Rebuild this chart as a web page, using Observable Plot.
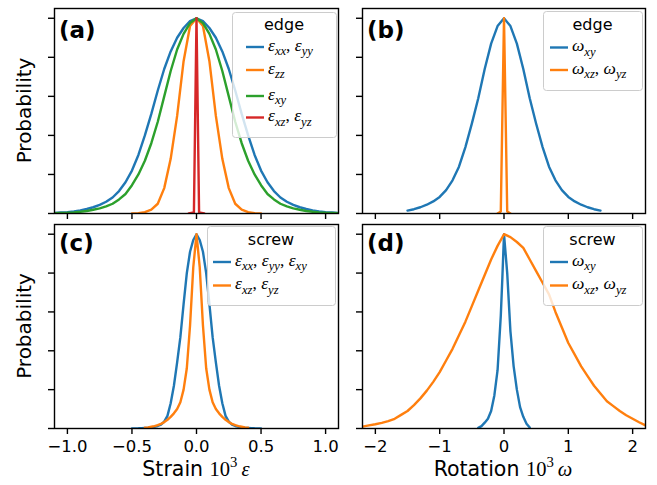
<!DOCTYPE html>
<html>
<head>
<meta charset="utf-8">
<script src="https://cdn.jsdelivr.net/npm/d3@7"></script>
<script src="https://cdn.jsdelivr.net/npm/@observablehq/plot@0.6"></script>
<style>
  body { margin: 0; background: #ffffff; }
  #fig { position: relative; width: 657px; height: 485px; overflow: hidden; background: #ffffff; }
  #fig svg { position: absolute; left: 0; top: 0; }
</style>
</head>
<body>
<div id="fig"></div>
<script>
// ---------- (a) edge dislocation, strain components ----------
const edgeStrainX = [-1.1,-1.05,-1,-0.95,-0.9,-0.85,-0.8,-0.75,-0.7,-0.65,-0.6,-0.55,-0.5,-0.45,-0.4,-0.35,-0.3,-0.25,-0.2,-0.15,-0.1,-0.05,0,
  0.05,0.1,0.15,0.2,0.25,0.3,0.35,0.4,0.45,0.5,0.55,0.6,0.65,0.7,0.75,0.8,0.85,0.9,0.95,1,1.05,1.1];
const edgeExxEyy = [0.003,0.005,0.007,0.011,0.016,0.023,0.032,0.044,0.06,0.082,0.115,0.16,0.22,0.3,0.4,0.51,0.63,0.74,0.83,0.9,0.95,0.985,1,
  0.985,0.95,0.9,0.83,0.74,0.63,0.51,0.4,0.3,0.22,0.16,0.115,0.082,0.06,0.044,0.032,0.023,0.016,0.011,0.007,0.005,0.003];
const edgeExy = [0.002,0.003,0.004,0.006,0.009,0.013,0.019,0.026,0.036,0.05,0.072,0.1,0.145,0.2,0.27,0.36,0.47,0.6,0.73,0.84,0.92,0.975,1,
  0.975,0.92,0.84,0.73,0.6,0.47,0.36,0.27,0.2,0.145,0.1,0.072,0.05,0.036,0.026,0.019,0.013,0.009,0.006,0.004,0.003,0.002];
const edgeEzzX = [-0.5,-0.45,-0.4,-0.35,-0.3,-0.25,-0.2,-0.15,-0.1,-0.05,0,0.05,0.1,0.15,0.2,0.25,0.3,0.35,0.4,0.45,0.5];
const edgeEzz = [0,0.002,0.007,0.02,0.05,0.13,0.28,0.5,0.78,0.96,1,0.96,0.78,0.5,0.28,0.13,0.05,0.02,0.007,0.002,0];
const edgeExzX = [-0.06,-0.02,0,0.02,0.06];
const edgeExzEyz = [0,0.005,1,0.005,0];

// ---------- (b) edge dislocation, rotation components ----------
const edgeRotX = [-1.5,-1.4,-1.3,-1.2,-1.1,-1,-0.9,-0.8,-0.7,-0.6,-0.5,-0.4,-0.3,-0.2,-0.1,0,
  0.1,0.2,0.3,0.4,0.5,0.6,0.7,0.8,0.9,1,1.1,1.2,1.3,1.4,1.5];
const edgeWxy = [0.015,0.022,0.032,0.045,0.062,0.085,0.12,0.17,0.24,0.34,0.46,0.59,0.74,0.87,0.96,1,
  0.96,0.87,0.74,0.59,0.46,0.34,0.24,0.17,0.12,0.085,0.062,0.045,0.032,0.022,0.015];
const edgeWxzX = [-0.1,-0.05,0,0.05,0.1];
const edgeWxzWyz = [0,0.01,1,0.01,0];

// ---------- (c) screw dislocation, strain components ----------
const screwStrainX = [-0.5,-0.475,-0.45,-0.425,-0.4,-0.375,-0.35,-0.325,-0.3,-0.275,-0.25,-0.225,-0.2,-0.175,-0.15,-0.125,-0.1,-0.075,-0.05,-0.025,0,
  0.025,0.05,0.075,0.1,0.125,0.15,0.175,0.2,0.225,0.25,0.275,0.3,0.325,0.35,0.375,0.4,0.425,0.45,0.475,0.5];
const screwExxEyyExy = [0,0.0005,0.001,0.002,0.003,0.004,0.006,0.009,0.013,0.02,0.035,0.065,0.13,0.22,0.34,0.47,0.64,0.8,0.91,0.97,1,
  0.97,0.91,0.8,0.64,0.47,0.34,0.22,0.13,0.065,0.035,0.02,0.013,0.009,0.006,0.004,0.003,0.002,0.001,0.0005,0];
const screwExzX = [-0.4,-0.375,-0.35,-0.325,-0.3,-0.275,-0.25,-0.225,-0.2,-0.175,-0.15,-0.125,-0.1,-0.075,-0.05,-0.025,0,
  0.025,0.05,0.075,0.1,0.125,0.15,0.175,0.2,0.225,0.25,0.275,0.3,0.325,0.35,0.375,0.4];
const screwExzEyz = [0.004,0.006,0.009,0.012,0.017,0.024,0.033,0.045,0.06,0.078,0.1,0.135,0.2,0.31,0.53,0.83,1,
  0.83,0.53,0.31,0.2,0.135,0.1,0.078,0.06,0.045,0.033,0.024,0.017,0.012,0.009,0.006,0.004];

// ---------- (d) screw dislocation, rotation components ----------
const screwWxyX = [-0.4,-0.35,-0.3,-0.25,-0.2,-0.15,-0.1,-0.05,-0.025,0,0.025,0.05,0.1,0.15,0.2,0.25,0.3,0.35,0.4];
const screwWxy = [0.003,0.012,0.03,0.05,0.09,0.17,0.3,0.58,0.78,1,0.9,0.8,0.5,0.32,0.2,0.11,0.06,0.025,0.005];
const screwRotX = [-2.2,-2.1,-2,-1.9,-1.8,-1.7,-1.6,-1.5,-1.4,-1.3,-1.2,-1.1,-1,-0.9,-0.8,-0.7,-0.6,-0.5,-0.4,-0.3,-0.2,-0.1,0,
  0.1,0.2,0.3,0.4,0.5,0.6,0.7,0.8,0.9,1,1.1,1.2,1.3,1.4,1.5,1.6,1.7,1.8,1.9,2,2.1,2.2];
const screwWxzWyz = [0.01,0.016,0.022,0.029,0.038,0.05,0.07,0.09,0.12,0.155,0.195,0.24,0.29,0.35,0.41,0.48,0.55,0.63,0.71,0.79,0.87,0.94,1,
  0.985,0.96,0.93,0.87,0.81,0.75,0.69,0.6,0.52,0.44,0.38,0.32,0.27,0.22,0.18,0.14,0.115,0.09,0.068,0.05,0.032,0.016];

// ---------- ticks ----------
const yTicks = [0, 0.2, 0.4, 0.6, 0.8, 1.0];
const strainTicks = [-1, -0.5, 0, 0.5, 1];
const rotationTicks = [-2, -1, 0, 1, 2];

const W = 657, H = 485;
const C = {blue: "#1f77b4", orange: "#ff7f0e", green: "#2ca02c", red: "#d62728"};

const rows = (xs, ys) => xs.map((x, i) => ({x, y: ys[i]}));

function panel({box, domain, ticks, format, series}) {
  return Plot.plot({
    width: W, height: H,
    marginLeft: box.left, marginRight: W - box.right,
    marginTop: box.top, marginBottom: H - box.bottom,
    x: {domain},
    y: {domain: [0, 1.05]},
    style: {background: "transparent", fontFamily: "DejaVu Sans", fontSize: "16.5px", color: "black", overflow: "visible"},
    marks: [
      ...series.map(s => Plot.line(rows(s.x, s.y), {x: "x", y: "y", stroke: s.color, strokeWidth: 2.4, clip: true})),
      Plot.frame({stroke: "black", strokeWidth: 1.4}),
      Plot.axisX({ticks, tickSize: 6, tickPadding: 6, strokeWidth: 1.4, label: null,
                  tickFormat: format ? d3.format(format) : () => ""}),
      Plot.axisY({ticks: yTicks, tickSize: 6, strokeWidth: 1.4, label: null, tickFormat: () => ""})
    ]
  });
}

const fig = document.getElementById("fig");
fig.append(panel({
  box: {left: 54, right: 338, top: 8, bottom: 213}, domain: [-1.1, 1.1], ticks: strainTicks, format: null,
  series: [
    {x: edgeStrainX, y: edgeExxEyy, color: C.blue},
    {x: edgeEzzX, y: edgeEzz, color: C.orange},
    {x: edgeStrainX, y: edgeExy, color: C.green},
    {x: edgeExzX, y: edgeExzEyz, color: C.red}
  ]
}));
fig.append(panel({
  box: {left: 362, right: 645, top: 8, bottom: 213}, domain: [-2.2, 2.2], ticks: rotationTicks, format: null,
  series: [
    {x: edgeRotX, y: edgeWxy, color: C.blue},
    {x: edgeWxzX, y: edgeWxzWyz, color: C.orange}
  ]
}));
fig.append(panel({
  box: {left: 54, right: 338, top: 224, bottom: 428}, domain: [-1.1, 1.1], ticks: strainTicks, format: ".1f",
  series: [
    {x: screwStrainX, y: screwExxEyyExy, color: C.blue},
    {x: screwExzX, y: screwExzEyz, color: C.orange}
  ]
}));
fig.append(panel({
  box: {left: 362, right: 645, top: 224, bottom: 428}, domain: [-2.2, 2.2], ticks: rotationTicks, format: "d",
  series: [
    {x: screwWxyX, y: screwWxy, color: C.blue},
    {x: screwRotX, y: screwWxzWyz, color: C.orange}
  ]
}));

// ---------- annotation layer: labels and legends ----------
const svg = d3.create("svg").attr("width", W).attr("height", H);
const SANS = "DejaVu Sans", SERIF = "Liberation Serif";

// parts: {t, sub, sup, rm, sans}
function rich(g, x, y, parts, size, anchor = "start") {
  const text = g.append("text").attr("x", x).attr("y", y).attr("font-size", size)
    .attr("text-anchor", anchor).attr("fill", "black").style("white-space", "pre");
  let off = 0;
  for (const p of parts) {
    const target = p.sub ? size * 0.26 : p.sup ? -size * 0.42 : 0;
    const ts = text.append("tspan").text(p.t).attr("dy", target - off);
    off = target;
    ts.attr("font-family", p.sans ? SANS : SERIF);
    if (p.sub || p.sup) ts.attr("font-size", size * 0.72);
    if (!p.rm && !p.sans) ts.attr("font-style", "italic");
  }
  return text;
}

const eps = {t: "ε"}, omg = {t: "ω"}, comma = {t: ", ", rm: true};
const sub = s => ({t: s, sub: true});

function legend({x, y, w, h, title, titleY, keyX, textX, entries}) {
  const g = svg.append("g");
  g.append("rect").attr("x", x + 0.5).attr("y", y + 0.5).attr("width", w).attr("height", h)
    .attr("rx", 3).attr("fill", "white").attr("fill-opacity", 0.8).attr("stroke", "#cccccc").attr("stroke-width", 1);
  g.append("text").attr("x", x + w / 2).attr("y", titleY).attr("text-anchor", "middle")
    .attr("font-family", SANS).attr("font-size", 16).text(title);
  for (const e of entries) {
    g.append("line").attr("x1", keyX).attr("x2", keyX + 18).attr("y1", e.y).attr("y2", e.y)
      .attr("stroke", e.color).attr("stroke-width", 2.4);
    rich(g, textX, e.y + 3.5, e.parts, 17.5);
  }
}

legend({x: 232, y: 12, w: 104, h: 125, title: "edge", titleY: 30, keyX: 246, textX: 268, entries: [
  {y: 47, color: C.blue, parts: [eps, sub("xx"), comma, eps, sub("yy")]},
  {y: 70, color: C.orange, parts: [eps, sub("zz")]},
  {y: 96, color: C.green, parts: [eps, sub("xy")]},
  {y: 117.5, color: C.red, parts: [eps, sub("xz"), comma, eps, sub("yz")]}
]});
legend({x: 543, y: 11, w: 99, h: 79, title: "edge", titleY: 29.5, keyX: 550, textX: 572, entries: [
  {y: 47.5, color: C.blue, parts: [omg, sub("xy")]},
  {y: 70, color: C.orange, parts: [omg, sub("xz"), comma, omg, sub("yz")]}
]});
legend({x: 207, y: 226, w: 128, h: 79, title: "screw", titleY: 245, keyX: 213, textX: 235, entries: [
  {y: 262, color: C.blue, parts: [eps, sub("xx"), comma, eps, sub("yy"), comma, eps, sub("xy")]},
  {y: 285.5, color: C.orange, parts: [eps, sub("xz"), comma, eps, sub("yz")]}
]});
legend({x: 543, y: 226, w: 99, h: 79, title: "screw", titleY: 245, keyX: 550, textX: 572, entries: [
  {y: 262, color: C.blue, parts: [omg, sub("xy")]},
  {y: 285.5, color: C.orange, parts: [omg, sub("xz"), comma, omg, sub("yz")]}
]});

// panel tags
for (const [tag, x, y] of [["(a)", 59, 38], ["(b)", 367, 38], ["(c)", 59, 251], ["(d)", 367, 251]]) {
  svg.append("text").attr("x", x).attr("y", y).attr("font-family", SANS).attr("font-weight", "bold")
    .attr("font-size", 23).attr("fill", "black").text(tag);
}

// y-axis titles
for (const cy of [110.5, 326]) {
  svg.append("text").attr("transform", `translate(31,${cy}) rotate(-90)`).attr("text-anchor", "middle")
    .attr("font-family", SANS).attr("font-size", 20).attr("fill", "black").text("Probability");
}

// x-axis titles
rich(svg, 196, 476, [{t: "Strain ", sans: true}, {t: "10", rm: true}, {t: "3", sup: true, rm: true}, {t: "\u2009ε"}], 20.5, "middle");
rich(svg, 503, 476, [{t: "Rotation ", sans: true}, {t: "10", rm: true}, {t: "3", sup: true, rm: true}, {t: "\u2009ω"}], 20.5, "middle");

fig.append(svg.node());
</script>
</body>
</html>
